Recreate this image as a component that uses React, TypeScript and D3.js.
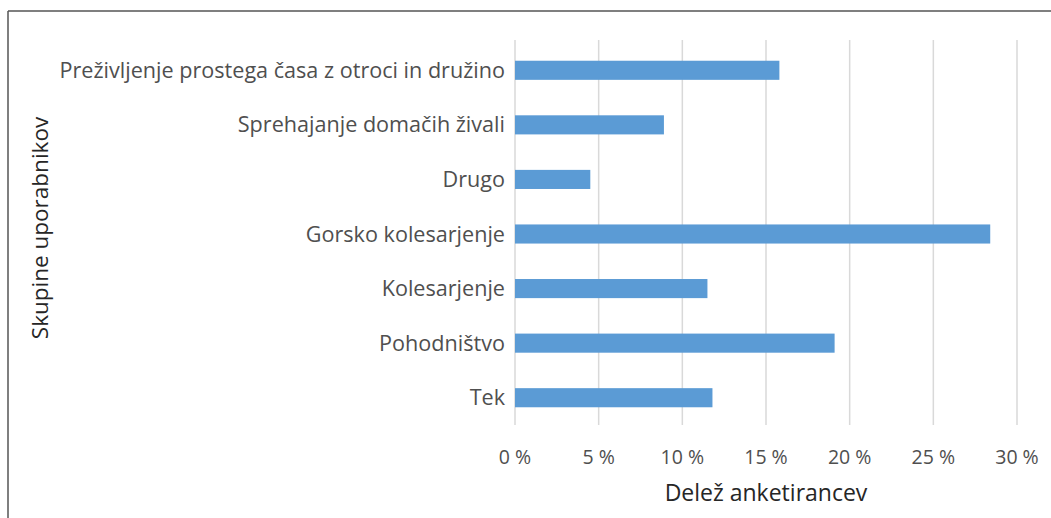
import React from "react";
import * as d3 from "d3";

const categories = [
  "Preživljenje prostega časa z otroci in družino",
  "Sprehajanje domačih živali",
  "Drugo",
  "Gorsko kolesarjenje",
  "Kolesarjenje",
  "Pohodništvo",
  "Tek",
];
const values = [15.8, 8.9, 4.5, 28.4, 11.5, 19.1, 11.8];
const xTicks = [0, 5, 10, 15, 20, 25, 30];
const xTitle = "Delež anketirancev";
const yTitle = "Skupine uporabnikov";

const W = 1051;
const H = 518;
const plot = { left: 515, right: 1017, top: 43, bottom: 425 };
const FONT = "'Open Sans', Lato, sans-serif";

export default function App() {
  const x = d3.scaleLinear().domain([0, 30]).range([plot.left, plot.right]);
  const y = d3
    .scaleBand<string>()
    .domain(categories)
    .range([plot.top, plot.bottom])
    .paddingInner(0.65)
    .paddingOuter(0.325);

  return (
    <svg
      width={W}
      height={H}
      style={{ position: "absolute", left: 0, top: 0, background: "#fff" }}
      fontFamily={FONT}
    >
      <rect x={0} y={0} width={W} height={H} fill="#fff" />
      <line x1={8} x2={W} y1={11} y2={11} stroke="#555" strokeWidth={1.5} />
      <line x1={8} x2={8} y1={11} y2={H} stroke="#555" strokeWidth={1.5} />
      {xTicks.map((t) => (
        <g key={t}>
          <line
            x1={x(t)}
            x2={x(t)}
            y1={plot.top - 3}
            y2={plot.bottom}
            stroke="#d9d9d9"
            strokeWidth={1.5}
          />
          <text
            x={x(t)}
            y={464}
            textAnchor="middle"
            fontSize={19.5}
            fill="#4f4f4f"
          >
            {`${t} %`}
          </text>
        </g>
      ))}
      {categories.map((c, i) => (
        <g key={c}>
          <rect
            x={x(0)}
            y={y(c)!}
            width={x(values[i]) - x(0)}
            height={y.bandwidth()}
            fill="#5b9bd5"
          />
          <text
            x={505}
            y={y(c)! + y.bandwidth() / 2}
            dy="0.35em"
            textAnchor="end"
            fontSize={21.6}
            fill="#4f4f4f"
          >
            {c}
          </text>
        </g>
      ))}
      <text
        x={(plot.left + plot.right) / 2}
        y={501}
        textAnchor="middle"
        fontSize={23}
        fill="#262626"
      >
        {xTitle}
      </text>
      <text
        transform={`translate(48, 228) rotate(-90)`}
        textAnchor="middle"
        fontSize={22.5}
        fill="#262626"
      >
        {yTitle}
      </text>
    </svg>
  );
}
